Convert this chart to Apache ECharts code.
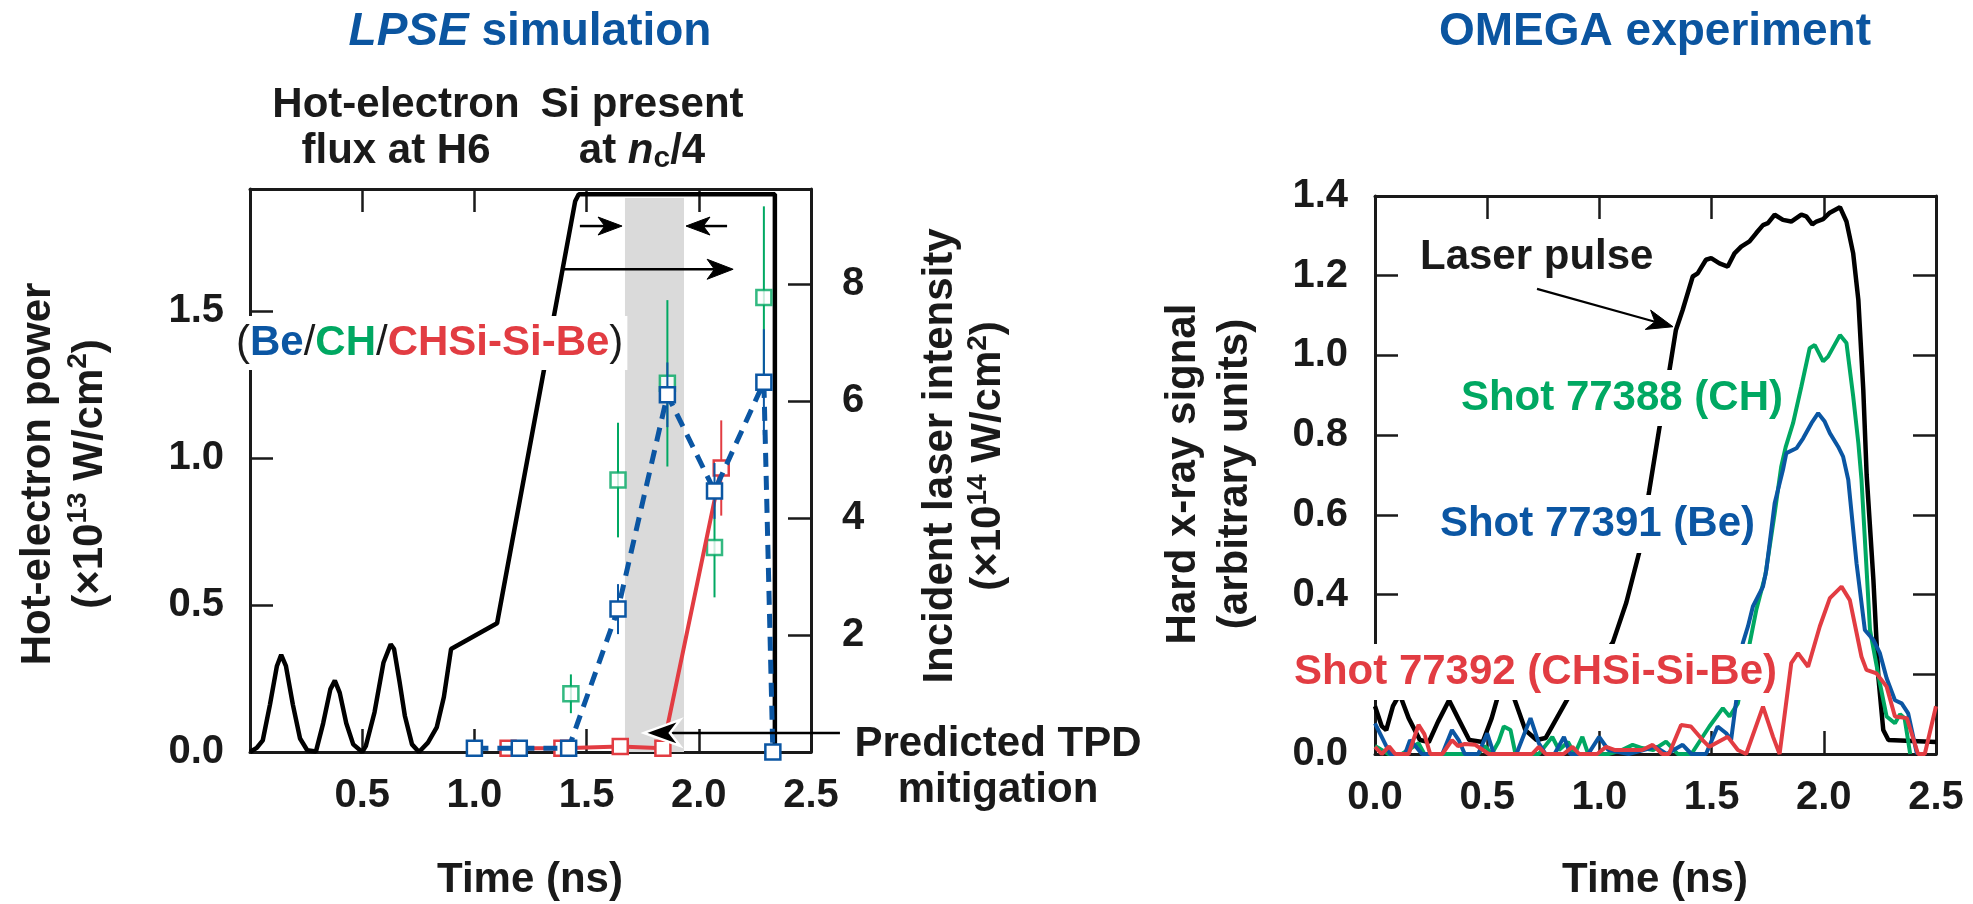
<!DOCTYPE html>
<html>
<head>
<meta charset="utf-8">
<script src="https://cdn.jsdelivr.net/npm/echarts@6/dist/echarts.min.js"></script>
<style>html,body{margin:0;padding:0;background:#fff}#chart{width:1973px;height:904px}</style>
</head>
<body>
<div id="chart"></div>
<script>
// ---------------- DATA ----------------
// shared time axis tick labels
const lpseTimeLabels = ['0.5', '1.0', '1.5', '2.0', '2.5'];
const omegaTimeLabels = ['0.0', '0.5', '1.0', '1.5', '2.0', '2.5'];
const powerLabels = ['0.0', '0.5', '1.0', '1.5'];
const intensityLabels = [2, 4, 6, 8];
const hxrLabels = ['0.0', '0.2', '0.4', '0.6', '0.8', '1.0', '1.2', '1.4'];

// LPSE panel: incident laser intensity (x1e14 W/cm^2)
const lpseTime = [0.0, 0.03, 0.057, 0.089, 0.12, 0.139, 0.16, 0.191, 0.223, 0.255, 0.294, 0.326, 0.358, 0.378, 0.40, 0.429, 0.46, 0.50, 0.516, 0.555, 0.595, 0.627, 0.642, 0.666, 0.69, 0.722, 0.753, 0.793, 0.832, 0.864, 0.896, 1.101, 1.449, 1.465, 2.339, 2.339];
const lpseIntensity = [0, 0.07, 0.2, 0.81, 1.47, 1.66, 1.47, 0.81, 0.23, 0.03, 0.01, 0.49, 1.07, 1.22, 1.01, 0.49, 0.13, 0, 0.1, 0.68, 1.53, 1.84, 1.76, 1.21, 0.62, 0.13, 0, 0.16, 0.42, 0.94, 1.76, 2.20, 9.41, 9.53, 9.53, 0];

// LPSE panel: hot-electron power (x1e13 W/cm^2)
const beTime = [1.0, 1.2, 1.42, 1.64, 1.86, 2.07, 2.29, 2.33];
const bePower = [0.013, 0.013, 0.013, 0.486, 1.215, 0.888, 1.258, 0.0];
const beErr = [null, null, null, 0.085, 0.11, 0.095, 0.18, null];
const chTime = [1.43, 1.64, 1.86, 2.07, 2.29];
const chPower = [0.198, 0.925, 1.254, 0.696, 1.546];
const chErr = [0.066, 0.195, 0.283, 0.17, 0.31];
const siTime = [1.15, 1.39, 1.65, 1.84, 2.10];
const siPower = [0.013, 0.013, 0.019, 0.013, 0.966];
const siErr = [null, null, null, null, 0.162];
// time window where Si is present at nc/4 (ns) and its top (power units)
const siWindow = [1.671, 1.934];
const siWindowTop = 1.884;

// OMEGA panel: laser pulse and hard x-ray signals (arbitrary units)
const omegaLaserT = [0, 0.03, 0.05, 0.08, 0.11, 0.15, 0.2, 0.24, 0.28, 0.33, 0.37, 0.42, 0.48, 0.52, 0.57, 0.62, 0.67, 0.72, 0.76, 0.81, 0.86, 0.92, 0.98, 1.06, 1.12, 1.177, 1.222, 1.267, 1.311, 1.341, 1.371, 1.416, 1.438, 1.475, 1.498, 1.535, 1.572, 1.602, 1.632, 1.669, 1.699, 1.729, 1.751, 1.781, 1.818, 1.855, 1.9, 1.922, 1.949, 1.967, 1.997, 2.027, 2.072, 2.101, 2.131, 2.154, 2.176, 2.191, 2.221, 2.243, 2.265, 2.288, 2.5];
const omegaLaserV = [0.12, 0.07, 0.06, 0.12, 0.15, 0.09, 0.035, 0.03, 0.08, 0.135, 0.09, 0.035, 0.03, 0.09, 0.19, 0.14, 0.06, 0.035, 0.04, 0.09, 0.14, 0.19, 0.22, 0.28, 0.38, 0.505, 0.66, 0.817, 0.959, 1.064, 1.114, 1.198, 1.206, 1.24, 1.244, 1.231, 1.223, 1.256, 1.273, 1.286, 1.307, 1.327, 1.332, 1.353, 1.34, 1.336, 1.353, 1.349, 1.329, 1.336, 1.342, 1.358, 1.372, 1.336, 1.256, 1.139, 0.913, 0.7, 0.437, 0.194, 0.06, 0.035, 0.03];

const shotBeT = [0, 0.052, 0.067, 0.134, 0.156, 0.18, 0.209, 0.3, 0.343, 0.373, 0.4, 0.46, 0.5, 0.53, 0.63, 0.693, 0.73, 0.76, 0.8, 0.842, 0.87, 0.95, 0.999, 1.04, 1.13, 1.25, 1.3, 1.371, 1.41, 1.475, 1.527, 1.565, 1.587, 1.61, 1.639, 1.662, 1.684, 1.729, 1.744, 1.781, 1.818, 1.833, 1.878, 1.908, 1.945, 1.975, 2.004, 2.027, 2.064, 2.086, 2.109, 2.146, 2.183, 2.221, 2.25, 2.28, 2.317, 2.347, 2.376, 2.415];
const shotBeV = [0.077, 0.018, 0, 0, 0.035, 0.02, 0, 0, 0.06, 0.035, 0, 0, 0.052, 0, 0, 0.09, 0.027, 0, 0, 0.043, 0, 0, 0.043, 0.01, 0, 0.018, 0, 0.023, 0, 0, 0.069, 0.052, 0.035, 0.135, 0.278, 0.32, 0.37, 0.42, 0.462, 0.629, 0.713, 0.755, 0.767, 0.792, 0.83, 0.855, 0.834, 0.805, 0.771, 0.746, 0.688, 0.478, 0.311, 0.286, 0.253, 0.19, 0.135, 0.127, 0.102, 0];

const shotChT = [0, 0.06, 0.12, 0.194, 0.22, 0.46, 0.49, 0.52, 0.55, 0.574, 0.604, 0.626, 0.73, 0.79, 0.82, 0.86, 0.89, 0.924, 0.95, 1.04, 1.1, 1.148, 1.19, 1.24, 1.297, 1.349, 1.41, 1.49, 1.55, 1.58, 1.617, 1.66, 1.699, 1.74, 1.78, 1.81, 1.83, 1.863, 1.9, 1.937, 1.96, 1.997, 2.019, 2.072, 2.101, 2.131, 2.154, 2.168, 2.206, 2.25, 2.28, 2.317, 2.34, 2.36, 2.385];
const shotChV = [0.02, 0, 0, 0.027, 0, 0, 0.02, 0, 0.03, 0.069, 0.06, 0, 0, 0.043, 0.01, 0.03, 0, 0.043, 0, 0, 0.01, 0.023, 0.015, 0.01, 0.031, 0, 0, 0.069, 0.115, 0.094, 0.127, 0.25, 0.361, 0.45, 0.6, 0.72, 0.77, 0.83, 0.922, 1.018, 1.026, 0.985, 0.997, 1.051, 1.031, 0.897, 0.78, 0.688, 0.311, 0.177, 0.094, 0.077, 0.1, 0.09, 0];

const shotSiT = [0, 0.03, 0.063, 0.09, 0.15, 0.194, 0.22, 0.246, 0.3, 0.343, 0.37, 0.4, 0.447, 0.507, 0.7, 0.73, 0.76, 0.84, 0.88, 0.91, 0.99, 1.03, 1.07, 1.13, 1.19, 1.237, 1.28, 1.31, 1.364, 1.408, 1.46, 1.49, 1.572, 1.617, 1.654, 1.729, 1.774, 1.803, 1.855, 1.885, 1.93, 1.982, 2.027, 2.079, 2.116, 2.168, 2.19, 2.235, 2.28, 2.317, 2.37, 2.42, 2.45, 2.5];
const shotSiV = [0.018, 0, 0.019, 0, 0, 0.073, 0.05, 0, 0, 0.035, 0.02, 0.025, 0.023, 0, 0, 0.018, 0, 0, 0.018, 0, 0, 0.018, 0.01, 0.01, 0.01, 0.023, 0, 0, 0.073, 0.069, 0.035, 0.018, 0.043, 0.01, 0, 0.119, 0.043, 0, 0.228, 0.253, 0.219, 0.32, 0.391, 0.42, 0.386, 0.244, 0.211, 0.202, 0.169, 0.094, 0.09, 0, 0, 0.12];

// ---------------- STYLE ----------------
const FONT = "'Liberation Sans', Arial, Helvetica, sans-serif";
const INK = '#1a1a1a';
const BLUE = '#0b56a3', GREEN = '#00a862', RED = '#e23c42', TITLE_BLUE = '#0b55a0';

const zip = (a, b) => a.map((v, i) => [v, b[i]]);
const errData = (t, p, e) => t.map((v, i) => e[i] == null ? null : [v, p[i] - e[i], p[i] + e[i]]).filter(Boolean);

const frameLine = { show: true, onZero: false, lineStyle: { color: INK, width: 3 } };
const tickIn = { show: true, inside: true, length: 23, lineStyle: { color: INK, width: 2.5 } };
const lab = (fmt, margin) => ({ show: true, color: INK, fontFamily: FONT, fontWeight: 'bold', fontSize: 40, margin: margin, formatter: fmt });
const pickFixed = list => v => { const s = (Math.round(v * 10) / 10).toFixed(1); return list.indexOf(s) >= 0 ? s : ''; };
const pickInt = list => v => { const r = Math.round(v); return (Math.abs(v - r) < 1e-6 && list.indexOf(r) >= 0) ? String(r) : ''; };

function errorBars(color) {
  return function (params, api) {
    const p1 = api.coord([api.value(0), api.value(1)]);
    const p2 = api.coord([api.value(0), api.value(2)]);
    return { type: 'line', shape: { x1: p1[0], y1: p1[1], x2: p2[0], y2: p2[1] }, style: { stroke: color, lineWidth: 2 } };
  };
}
const squareStyle = c => ({ color: '#fff', borderColor: c, borderWidth: 2.5 });

const chart = echarts.init(document.getElementById('chart'), null, { renderer: 'canvas' });

const option = {
  animation: false,
  backgroundColor: '#fff',
  grid: [
    { left: 250, top: 189, width: 561, height: 563, containLabel: false },
    { left: 1375, top: 196, width: 561, height: 558, containLabel: false }
  ],
  xAxis: [
    { type: 'value', gridIndex: 0, position: 'bottom', min: 0, max: 2.5, interval: 0.5, axisLine: frameLine, axisTick: tickIn, axisLabel: lab(pickFixed(lpseTimeLabels), 24), splitLine: { show: false } },
    { type: 'value', gridIndex: 0, position: 'top', min: 0, max: 2.5, interval: 0.5, axisLine: frameLine, axisTick: tickIn, axisLabel: { show: false }, splitLine: { show: false } },
    { type: 'value', gridIndex: 1, position: 'bottom', min: 0, max: 2.5, interval: 0.5, axisLine: frameLine, axisTick: tickIn, axisLabel: lab(pickFixed(omegaTimeLabels), 24), splitLine: { show: false } },
    { type: 'value', gridIndex: 1, position: 'top', min: 0, max: 2.5, interval: 0.5, axisLine: frameLine, axisTick: tickIn, axisLabel: { show: false }, splitLine: { show: false } }
  ],
  yAxis: [
    { type: 'value', gridIndex: 0, position: 'left', min: 0, max: 1.915, interval: 0.5, axisLine: frameLine, axisTick: tickIn, axisLabel: lab(pickFixed(powerLabels), 26), splitLine: { show: false } },
    { type: 'value', gridIndex: 0, position: 'right', min: 0, max: 9.62, interval: 2, axisLine: frameLine, axisTick: tickIn, axisLabel: lab(pickInt(intensityLabels), 31), splitLine: { show: false } },
    { type: 'value', gridIndex: 1, position: 'left', min: 0, max: 1.4, interval: 0.2, axisLine: frameLine, axisTick: tickIn, axisLabel: lab(pickFixed(hxrLabels), 27), splitLine: { show: false } },
    { type: 'value', gridIndex: 1, position: 'right', min: 0, max: 1.4, interval: 0.2, axisLine: frameLine, axisTick: tickIn, axisLabel: { show: false }, splitLine: { show: false } }
  ],
  series: [
    { type: 'line', xAxisIndex: 0, yAxisIndex: 0, data: [[siWindow[0], 0]], symbol: 'none', lineStyle: { width: 0 }, z: 1, silent: true,
      markArea: { silent: true, itemStyle: { color: '#dadada' }, data: [[{ coord: [siWindow[0], 0] }, { coord: [siWindow[1], siWindowTop] }]] } },
    { type: 'line', name: 'Incident laser', xAxisIndex: 0, yAxisIndex: 1, data: zip(lpseTime, lpseIntensity), symbol: 'none', lineStyle: { color: '#000', width: 4.5 }, z: 3, silent: true },
    { type: 'custom', name: 'CH err', xAxisIndex: 0, yAxisIndex: 0, data: errData(chTime, chPower, chErr), renderItem: errorBars(GREEN), encode: { x: 0, y: [1, 2] }, z: 4, silent: true },
    { type: 'scatter', name: 'CH', xAxisIndex: 0, yAxisIndex: 0, data: zip(chTime, chPower), symbol: 'rect', symbolSize: 15, itemStyle: squareStyle(GREEN), z: 5, silent: true },
    { type: 'line', name: 'CHSi-Si-Be', xAxisIndex: 0, yAxisIndex: 0, data: zip(siTime, siPower), symbol: 'rect', symbolSize: 15, itemStyle: squareStyle(RED), lineStyle: { color: RED, width: 4 }, z: 6, silent: true },
    { type: 'custom', name: 'Si err', xAxisIndex: 0, yAxisIndex: 0, data: errData(siTime, siPower, siErr), renderItem: errorBars(RED), encode: { x: 0, y: [1, 2] }, z: 6, silent: true },
    { type: 'custom', name: 'Be err', xAxisIndex: 0, yAxisIndex: 0, data: errData(beTime, bePower, beErr), renderItem: errorBars(BLUE), encode: { x: 0, y: [1, 2] }, z: 7, silent: true },
    { type: 'line', name: 'Be', xAxisIndex: 0, yAxisIndex: 0, data: zip(beTime, bePower), symbol: 'rect', symbolSize: 15, itemStyle: squareStyle(BLUE), lineStyle: { color: BLUE, width: 5, type: [14, 9] }, z: 8, silent: true },

    { type: 'line', name: 'Laser pulse', xAxisIndex: 2, yAxisIndex: 2, data: zip(omegaLaserT, omegaLaserV), symbol: 'none', lineStyle: { color: '#000', width: 4.5 }, z: 3, silent: true },
    { type: 'line', name: 'Shot 77388', xAxisIndex: 2, yAxisIndex: 2, data: zip(shotChT, shotChV), symbol: 'none', lineStyle: { color: GREEN, width: 4 }, z: 4, silent: true },
    { type: 'line', name: 'Shot 77391', xAxisIndex: 2, yAxisIndex: 2, data: zip(shotBeT, shotBeV), symbol: 'none', lineStyle: { color: BLUE, width: 4 }, z: 5, silent: true },
    { type: 'line', name: 'Shot 77392', xAxisIndex: 2, yAxisIndex: 2, data: zip(shotSiT, shotSiV), symbol: 'none', lineStyle: { color: RED, width: 4 }, z: 6, silent: true }
  ]
};
chart.setOption(option);

// ---------------- ANNOTATIONS ----------------
const toPx = (xi, yi, p) => chart.convertToPixel({ xAxisIndex: xi, yAxisIndex: yi }, p);

function arrow(p0, p1, o) {
  const dx = p1[0] - p0[0], dy = p1[1] - p0[1];
  const len = Math.hypot(dx, dy), ux = dx / len, uy = dy / len, nx = -uy, ny = ux;
  const L = o.head, W = o.width / 2;
  const bx = p1[0] - ux * L, by = p1[1] - uy * L;
  const notch = [p1[0] - ux * L * 0.72, p1[1] - uy * L * 0.72];
  return [
    { type: 'line', z: 60, silent: true, shape: { x1: p0[0], y1: p0[1], x2: notch[0], y2: notch[1] }, style: { stroke: '#000', lineWidth: o.lw || 2.5 } },
    { type: 'polygon', z: 61, silent: true, shape: { points: [p1, [bx + nx * W, by + ny * W], notch, [bx - nx * W, by - ny * W]] },
      style: { fill: '#000', stroke: o.outline || '#000', lineWidth: o.outline ? 2.5 : 1 } }
  ];
}

function txt(x, y, text, o) {
  o = o || {};
  const size = o.size || 42;
  return {
    type: 'text', x: x, y: y, z: o.z || 80, rotation: o.rot || 0, silent: true,
    style: {
      text: text, fill: o.color || INK, fontFamily: FONT, fontWeight: 'bold', fontSize: size,
      align: o.align || 'center', verticalAlign: 'middle', lineHeight: o.lh || Math.round(size * 1.15),
      backgroundColor: o.bg, padding: o.pad, rich: o.rich
    }
  };
}
const base = (size, color, lh, extra) => Object.assign({ fontFamily: FONT, fontWeight: 'bold', fontSize: size, fill: color || INK, color: color || INK, lineHeight: lh }, extra || {});

const els = [];
// arrows (LPSE panel, in time / power coordinates)
els.push(...arrow(toPx(0, 0, [1.47, 1.789]), toPx(0, 0, [1.658, 1.789]), { head: 24, width: 18 }));
els.push(...arrow(toPx(0, 0, [2.126, 1.789]), toPx(0, 0, [1.943, 1.789]), { head: 24, width: 18 }));
els.push(...arrow(toPx(0, 0, [1.386, 1.642]), toPx(0, 0, [2.153, 1.642]), { head: 26, width: 20 }));
els.push(...arrow(toPx(0, 0, [2.629, 0.065]), toPx(0, 0, [1.756, 0.065]), { head: 36, width: 26, outline: '#fff' }));
// arrow (OMEGA panel)
els.push(...arrow(toPx(2, 2, [0.722, 1.167]), toPx(2, 2, [1.328, 1.072]), { head: 26, width: 20, lw: 2.2 }));

// titles
els.push(txt(530, 32, '{i|LPSE} {n|simulation}', { size: 46, color: TITLE_BLUE,
  rich: { i: base(46, TITLE_BLUE, 54, { fontStyle: 'italic' }), n: base(46, TITLE_BLUE, 54) } }));
els.push(txt(1655, 32, 'OMEGA experiment', { size: 46, color: TITLE_BLUE }));

// panel annotations
els.push(txt(396, 128, 'Hot-electron\nflux at H6', { lh: 46 }));
els.push(txt(642, 128, '{m|Si present}\n{m|at }{it|n}{sub|c}{m|/4}', { lh: 46,
  rich: { m: base(42, INK, 46), it: base(42, INK, 46, { fontStyle: 'italic' }), sub: base(30, INK, 18, { verticalAlign: 'bottom' }) } }));
els.push(txt(232, 343, '{k|(}{b|Be}{k|/}{g|CH}{k|/}{r|CHSi-Si-Be}{k|)}', { align: 'left', bg: '#fff', pad: [4, 4, 4, 4], z: 90,
  rich: { k: base(42, INK, 46, { fontWeight: 'normal' }), b: base(42, BLUE, 46), g: base(42, GREEN, 46), r: base(42, RED, 46) } }));
els.push(txt(998, 767, 'Predicted TPD\nmitigation', { lh: 46 }));

// axis titles
els.push(txt(530, 880, 'Time (ns)'));
els.push(txt(1655, 880, 'Time (ns)'));
els.push(txt(64, 474, '{m|Hot-electron power}\n{m|(×10}{sup|13}{m| W/cm}{sup|2}{m|)}', { rot: Math.PI / 2, lh: 52,
  rich: { m: base(42, INK, 52), sup: base(28, INK, 30, { verticalAlign: 'top' }) } }));
els.push(txt(964, 456, '{m|Incident laser intensity}\n{m|(×10}{sup|14}{m| W/cm}{sup|2}{m|)}', { rot: Math.PI / 2, lh: 48,
  rich: { m: base(42, INK, 48), sup: base(28, INK, 30, { verticalAlign: 'top' }) } }));
els.push(txt(1209, 474, 'Hard x-ray signal\n(arbitrary units)', { rot: Math.PI / 2, lh: 52 }));

// OMEGA labels
els.push(txt(1420, 257, 'Laser pulse', { align: 'left' }));
els.push(txt(1787, 398, 'Shot 77388 (CH)', { align: 'right', color: GREEN, bg: '#fff', pad: [4, 4, 4, 4], lh: 48, z: 90 }));
els.push(txt(1759, 524, 'Shot 77391 (Be)', { align: 'right', color: BLUE, bg: '#fff', pad: [5, 4, 5, 4], lh: 48, z: 90 }));
els.push(txt(1781, 672, 'Shot 77392 (CHSi-Si-Be)', { align: 'right', color: RED, bg: '#fff', pad: [4, 4, 4, 4], lh: 48, z: 90 }));

chart.setOption({ graphic: { elements: els } });
</script>
</body>
</html>
